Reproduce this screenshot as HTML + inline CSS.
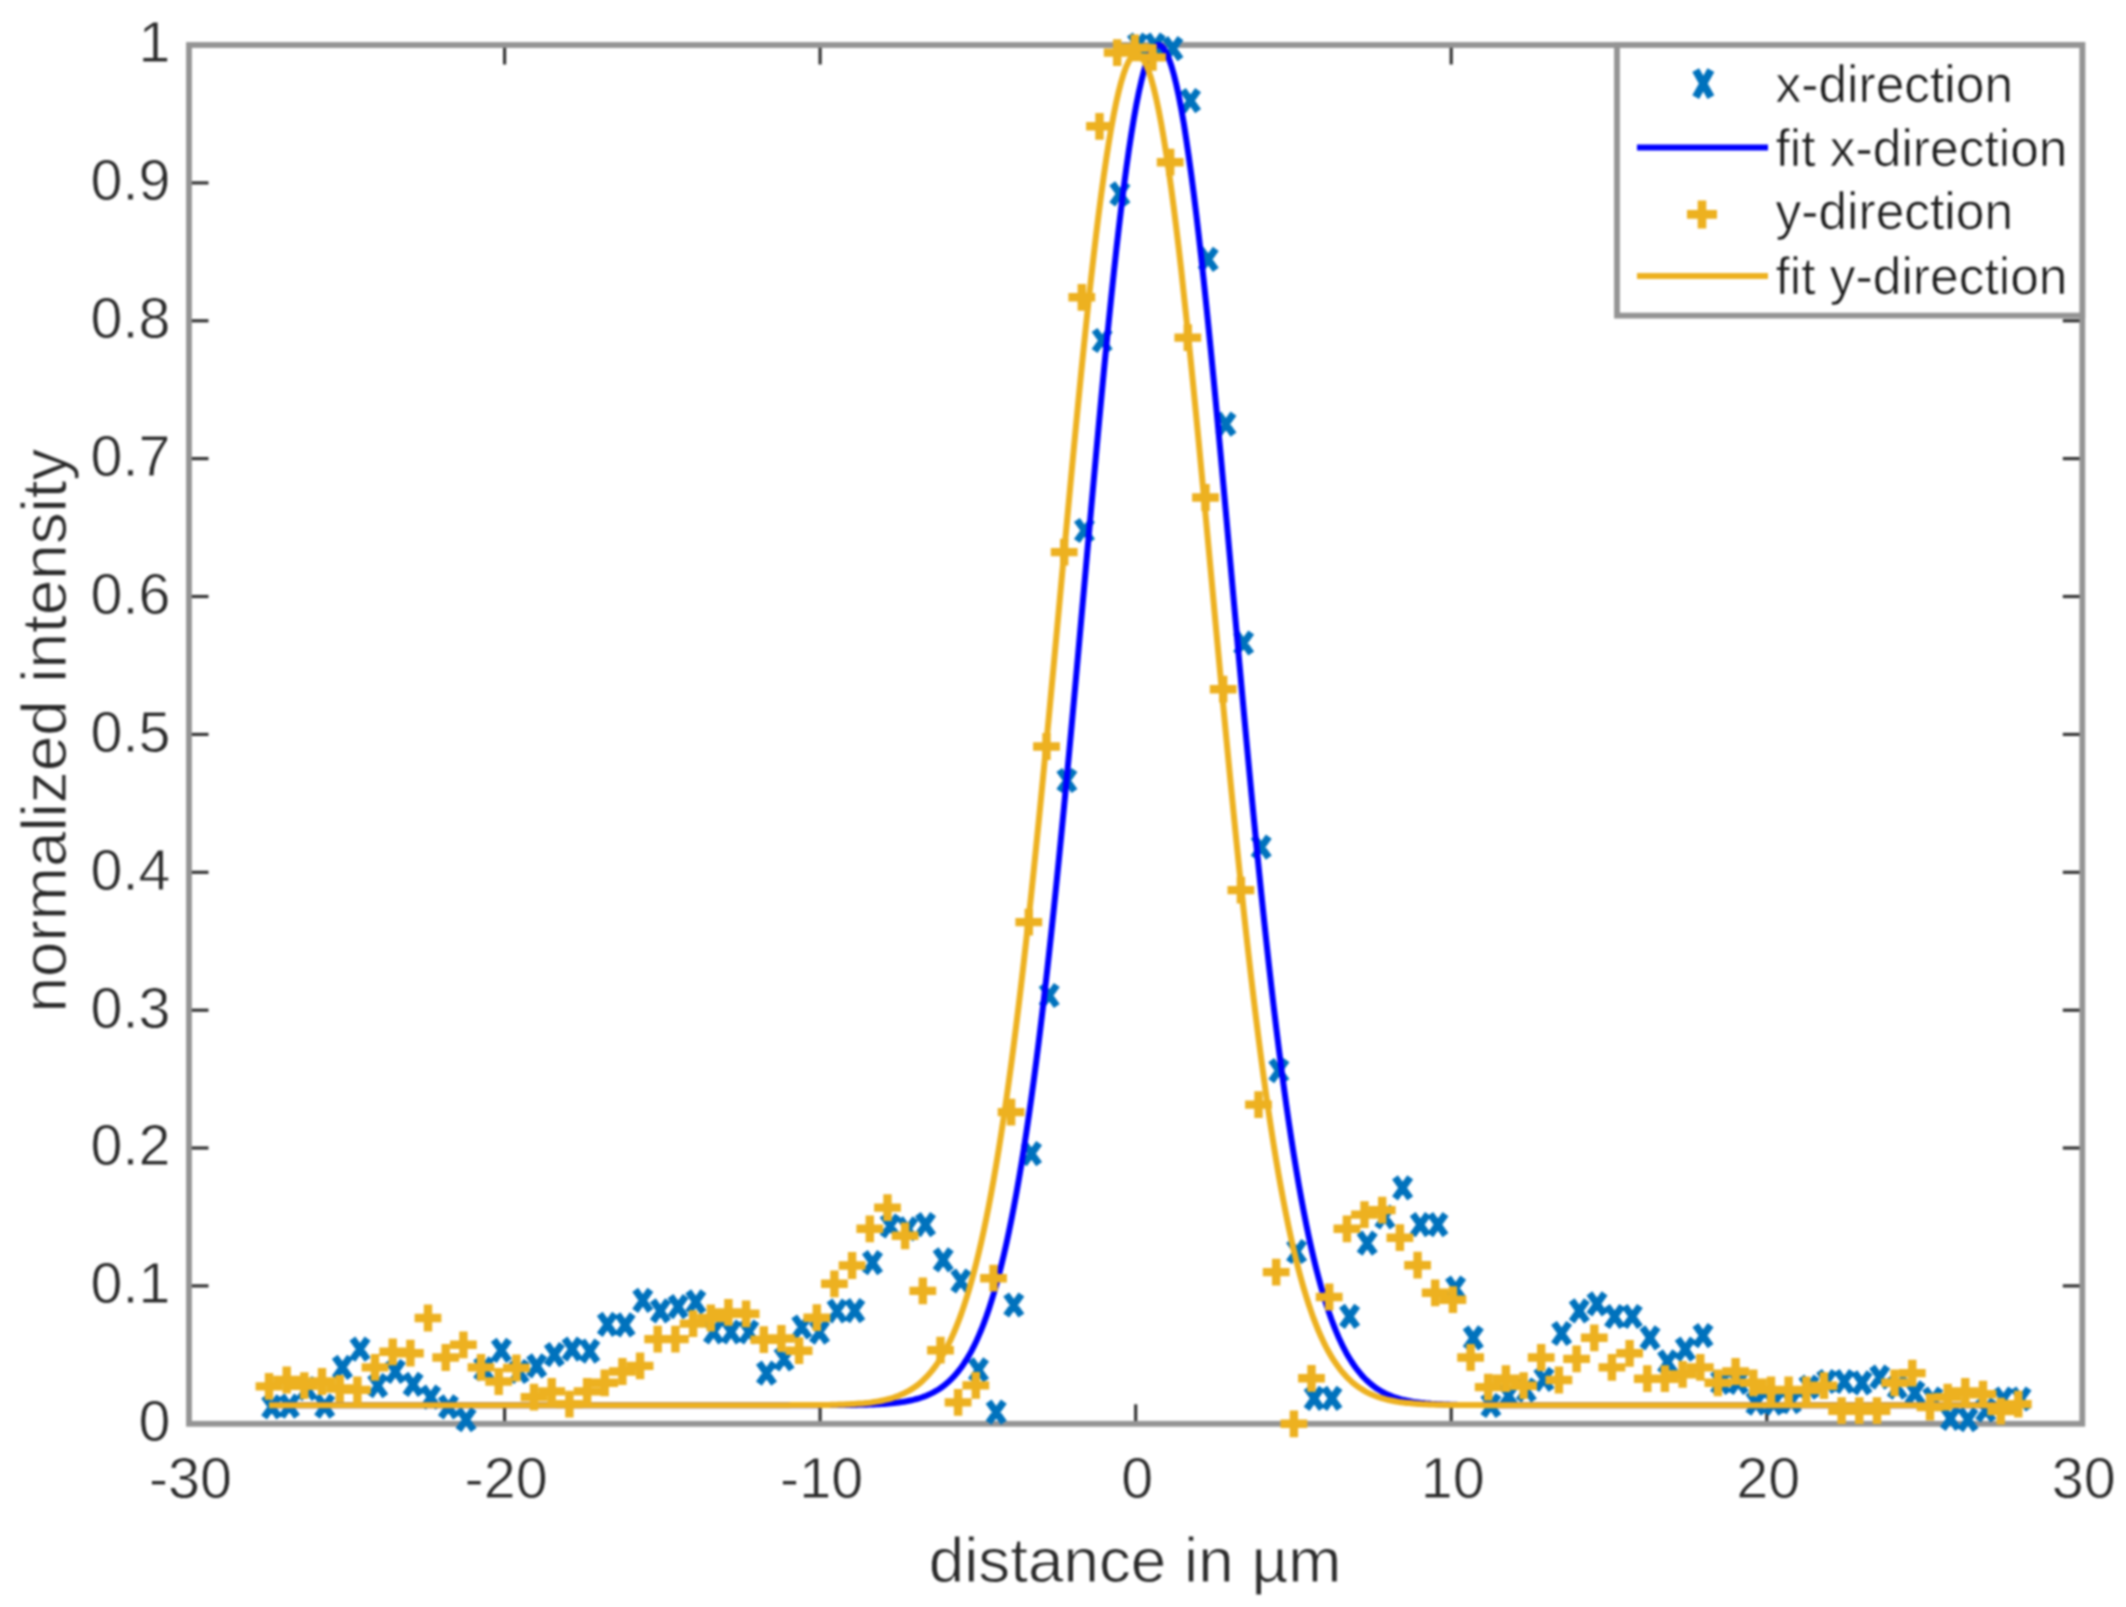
<!DOCTYPE html>
<html lang="en"><head><meta charset="utf-8"><title>Beam profile</title>
<style>html,body{margin:0;padding:0;background:#fff}svg{display:block}</style></head>
<body>
<svg width="2126" height="1607" viewBox="0 0 2126 1607" font-family='"Liberation Sans", sans-serif'>
<rect x="0" y="0" width="2126" height="1607" fill="#ffffff"/>
<defs><filter id="soft" x="0" y="0" width="100%" height="100%" filterUnits="userSpaceOnUse" color-interpolation-filters="sRGB"><feGaussianBlur stdDeviation="0.9"/></filter></defs>
<g filter="url(#soft)">
<rect x="0" y="0" width="2126" height="1607" fill="#ffffff"/>
<g stroke="#333333" stroke-width="3.2" fill="none">
<path d="M504.6 1423.8 V1404.3"/>
<path d="M504.6 45.0 V64.5"/>
<path d="M820.1 1423.8 V1404.3"/>
<path d="M820.1 45.0 V64.5"/>
<path d="M1135.7 1423.8 V1404.3"/>
<path d="M1451.2 1423.8 V1404.3"/>
<path d="M1451.2 45.0 V64.5"/>
<path d="M1766.8 1423.8 V1404.3"/>
<path d="M1766.8 45.0 V64.5"/>
<path d="M189.0 1285.9 H208.5"/>
<path d="M2082.3 1285.9 H2062.8"/>
<path d="M189.0 1148.0 H208.5"/>
<path d="M2082.3 1148.0 H2062.8"/>
<path d="M189.0 1010.2 H208.5"/>
<path d="M2082.3 1010.2 H2062.8"/>
<path d="M189.0 872.3 H208.5"/>
<path d="M2082.3 872.3 H2062.8"/>
<path d="M189.0 734.4 H208.5"/>
<path d="M2082.3 734.4 H2062.8"/>
<path d="M189.0 596.5 H208.5"/>
<path d="M2082.3 596.5 H2062.8"/>
<path d="M189.0 458.6 H208.5"/>
<path d="M2082.3 458.6 H2062.8"/>
<path d="M189.0 320.8 H208.5"/>
<path d="M2082.3 320.8 H2062.8"/>
<path d="M189.0 182.9 H208.5"/>
<path d="M2082.3 182.9 H2062.8"/>
</g>
<rect x="189.0" y="45.0" width="1893.3" height="1378.8" fill="none" stroke="#949494" stroke-width="5.8"/>
<g stroke="#0072bd" stroke-width="7.2" fill="none" stroke-linecap="butt">
<path d="M264.1 1396.3l15.2 21.0M264.1 1417.3l15.2 -21.0M281.8 1395.7l15.2 21.0M281.8 1416.7l15.2 -21.0M299.4 1378.0l15.2 21.0M299.4 1399.0l15.2 -21.0M317.1 1395.7l15.2 21.0M317.1 1416.7l15.2 -21.0M334.8 1356.9l15.2 21.0M334.8 1377.9l15.2 -21.0M352.4 1338.6l15.2 21.0M352.4 1359.6l15.2 -21.0M370.1 1375.2l15.2 21.0M370.1 1396.2l15.2 -21.0M387.8 1361.0l15.2 21.0M387.8 1382.0l15.2 -21.0M405.5 1373.9l15.2 21.0M405.5 1394.9l15.2 -21.0M423.1 1386.6l15.2 21.0M423.1 1407.6l15.2 -21.0M440.8 1396.3l15.2 21.0M440.8 1417.3l15.2 -21.0M458.5 1409.2l15.2 21.0M458.5 1430.2l15.2 -21.0M476.1 1358.3l15.2 21.0M476.1 1379.3l15.2 -21.0M493.8 1339.9l15.2 21.0M493.8 1360.9l15.2 -21.0M511.5 1361.0l15.2 21.0M511.5 1382.0l15.2 -21.0M529.1 1355.4l15.2 21.0M529.1 1376.4l15.2 -21.0M546.8 1344.2l15.2 21.0M546.8 1365.2l15.2 -21.0M564.5 1338.6l15.2 21.0M564.5 1359.6l15.2 -21.0M582.2 1340.6l15.2 21.0M582.2 1361.6l15.2 -21.0M599.8 1313.8l15.2 21.0M599.8 1334.8l15.2 -21.0M617.5 1314.4l15.2 21.0M617.5 1335.4l15.2 -21.0M635.2 1289.8l15.2 21.0M635.2 1310.8l15.2 -21.0M652.8 1300.4l15.2 21.0M652.8 1321.4l15.2 -21.0M670.5 1296.2l15.2 21.0M670.5 1317.2l15.2 -21.0M688.2 1291.3l15.2 21.0M688.2 1312.3l15.2 -21.0M705.9 1321.5l15.2 21.0M705.9 1342.5l15.2 -21.0M723.5 1321.5l15.2 21.0M723.5 1342.5l15.2 -21.0M741.2 1321.5l15.2 21.0M741.2 1342.5l15.2 -21.0M758.9 1362.6l15.2 21.0M758.9 1383.6l15.2 -21.0M776.5 1348.5l15.2 21.0M776.5 1369.5l15.2 -21.0M794.2 1316.5l15.2 21.0M794.2 1337.5l15.2 -21.0M811.9 1321.7l15.2 21.0M811.9 1342.7l15.2 -21.0M829.5 1300.5l15.2 21.0M829.5 1321.5l15.2 -21.0M847.2 1300.1l15.2 21.0M847.2 1321.1l15.2 -21.0M864.9 1252.2l15.2 21.0M864.9 1273.2l15.2 -21.0M882.6 1215.5l15.2 21.0M882.6 1236.5l15.2 -21.0M900.2 1218.3l15.2 21.0M900.2 1239.3l15.2 -21.0M917.9 1214.1l15.2 21.0M917.9 1235.1l15.2 -21.0M935.6 1249.3l15.2 21.0M935.6 1270.3l15.2 -21.0M953.2 1270.5l15.2 21.0M953.2 1291.5l15.2 -21.0M970.9 1359.4l15.2 21.0M970.9 1380.4l15.2 -21.0M988.6 1401.7l15.2 21.0M988.6 1422.7l15.2 -21.0M1006.2 1294.5l15.2 21.0M1006.2 1315.5l15.2 -21.0M1023.9 1143.1l15.2 21.0M1023.9 1164.1l15.2 -21.0M1041.6 985.0l15.2 21.0M1041.6 1006.0l15.2 -21.0M1059.3 770.0l15.2 21.0M1059.3 791.0l15.2 -21.0M1076.9 520.0l15.2 21.0M1076.9 541.0l15.2 -21.0M1094.6 330.0l15.2 21.0M1094.6 351.0l15.2 -21.0M1112.3 183.4l15.2 21.0M1112.3 204.4l15.2 -21.0M1129.9 34.5l15.2 21.0M1129.9 55.5l15.2 -21.0M1147.6 34.5l15.2 21.0M1147.6 55.5l15.2 -21.0M1165.3 38.1l15.2 21.0M1165.3 59.1l15.2 -21.0M1182.9 90.1l15.2 21.0M1182.9 111.1l15.2 -21.0M1200.6 248.9l15.2 21.0M1200.6 269.9l15.2 -21.0M1218.3 413.7l15.2 21.0M1218.3 434.7l15.2 -21.0M1236.0 632.5l15.2 21.0M1236.0 653.5l15.2 -21.0M1253.6 836.7l15.2 21.0M1253.6 857.7l15.2 -21.0M1271.3 1060.2l15.2 21.0M1271.3 1081.2l15.2 -21.0M1289.0 1241.0l15.2 21.0M1289.0 1262.0l15.2 -21.0M1306.6 1387.8l15.2 21.0M1306.6 1408.8l15.2 -21.0M1324.3 1387.8l15.2 21.0M1324.3 1408.8l15.2 -21.0M1342.0 1305.8l15.2 21.0M1342.0 1326.8l15.2 -21.0M1359.6 1232.7l15.2 21.0M1359.6 1253.7l15.2 -21.0M1377.3 1206.5l15.2 21.0M1377.3 1227.5l15.2 -21.0M1395.0 1177.4l15.2 21.0M1395.0 1198.4l15.2 -21.0M1412.7 1214.1l15.2 21.0M1412.7 1235.1l15.2 -21.0M1430.3 1214.1l15.2 21.0M1430.3 1235.1l15.2 -21.0M1448.0 1277.6l15.2 21.0M1448.0 1298.6l15.2 -21.0M1465.7 1327.3l15.2 21.0M1465.7 1348.3l15.2 -21.0M1483.3 1395.0l15.2 21.0M1483.3 1416.0l15.2 -21.0M1501.0 1385.0l15.2 21.0M1501.0 1406.0l15.2 -21.0M1518.7 1379.5l15.2 21.0M1518.7 1400.5l15.2 -21.0M1536.3 1368.9l15.2 21.0M1536.3 1389.9l15.2 -21.0M1554.0 1323.0l15.2 21.0M1554.0 1344.0l15.2 -21.0M1571.7 1300.4l15.2 21.0M1571.7 1321.4l15.2 -21.0M1589.4 1293.3l15.2 21.0M1589.4 1314.3l15.2 -21.0M1607.0 1306.0l15.2 21.0M1607.0 1327.0l15.2 -21.0M1624.7 1306.0l15.2 21.0M1624.7 1327.0l15.2 -21.0M1642.4 1327.3l15.2 21.0M1642.4 1348.3l15.2 -21.0M1660.0 1351.3l15.2 21.0M1660.0 1372.3l15.2 -21.0M1677.7 1338.6l15.2 21.0M1677.7 1359.6l15.2 -21.0M1695.4 1325.1l15.2 21.0M1695.4 1346.1l15.2 -21.0M1713.0 1371.9l15.2 21.0M1713.0 1392.9l15.2 -21.0M1730.7 1371.9l15.2 21.0M1730.7 1392.9l15.2 -21.0M1748.4 1392.6l15.2 21.0M1748.4 1413.6l15.2 -21.0M1766.1 1392.6l15.2 21.0M1766.1 1413.6l15.2 -21.0M1783.7 1391.2l15.2 21.0M1783.7 1412.2l15.2 -21.0M1801.4 1376.6l15.2 21.0M1801.4 1397.6l15.2 -21.0M1819.1 1371.0l15.2 21.0M1819.1 1392.0l15.2 -21.0M1836.7 1371.0l15.2 21.0M1836.7 1392.0l15.2 -21.0M1854.4 1372.3l15.2 21.0M1854.4 1393.3l15.2 -21.0M1872.1 1366.7l15.2 21.0M1872.1 1387.7l15.2 -21.0M1889.7 1376.6l15.2 21.0M1889.7 1397.6l15.2 -21.0M1907.4 1382.3l15.2 21.0M1907.4 1403.3l15.2 -21.0M1925.1 1388.5l15.2 21.0M1925.1 1409.5l15.2 -21.0M1942.8 1407.8l15.2 21.0M1942.8 1428.8l15.2 -21.0M1960.4 1409.2l15.2 21.0M1960.4 1430.2l15.2 -21.0M1978.1 1399.5l15.2 21.0M1978.1 1420.5l15.2 -21.0M1995.8 1388.5l15.2 21.0M1995.8 1409.5l15.2 -21.0M2013.4 1388.5l15.2 21.0M2013.4 1409.5l15.2 -21.0"/>
</g>
<polyline points="271.7,1405.2 274.2,1405.2 276.7,1405.2 279.2,1405.2 281.7,1405.2 284.2,1405.2 286.7,1405.2 289.2,1405.2 291.7,1405.2 294.2,1405.2 296.7,1405.2 299.2,1405.2 301.7,1405.2 304.2,1405.2 306.7,1405.2 309.2,1405.2 311.7,1405.2 314.2,1405.2 316.7,1405.2 319.2,1405.2 321.7,1405.2 324.2,1405.2 326.7,1405.2 329.2,1405.2 331.7,1405.2 334.2,1405.2 336.7,1405.2 339.2,1405.2 341.7,1405.2 344.2,1405.2 346.7,1405.2 349.2,1405.2 351.7,1405.2 354.2,1405.2 356.7,1405.2 359.2,1405.2 361.7,1405.2 364.2,1405.2 366.7,1405.2 369.2,1405.2 371.7,1405.2 374.2,1405.2 376.7,1405.2 379.2,1405.2 381.7,1405.2 384.2,1405.2 386.7,1405.2 389.2,1405.2 391.7,1405.2 394.2,1405.2 396.7,1405.2 399.2,1405.2 401.7,1405.2 404.1,1405.2 406.6,1405.2 409.1,1405.2 411.6,1405.2 414.1,1405.2 416.6,1405.2 419.1,1405.2 421.6,1405.2 424.1,1405.2 426.6,1405.2 429.1,1405.2 431.6,1405.2 434.1,1405.2 436.6,1405.2 439.1,1405.2 441.6,1405.2 444.1,1405.2 446.6,1405.2 449.1,1405.2 451.6,1405.2 454.1,1405.2 456.6,1405.2 459.1,1405.2 461.6,1405.2 464.1,1405.2 466.6,1405.2 469.1,1405.2 471.6,1405.2 474.1,1405.2 476.6,1405.2 479.1,1405.2 481.6,1405.2 484.1,1405.2 486.6,1405.2 489.1,1405.2 491.6,1405.2 494.1,1405.2 496.6,1405.2 499.1,1405.2 501.6,1405.2 504.1,1405.2 506.6,1405.2 509.1,1405.2 511.6,1405.2 514.1,1405.2 516.6,1405.2 519.1,1405.2 521.6,1405.2 524.1,1405.2 526.6,1405.2 529.1,1405.2 531.6,1405.2 534.1,1405.2 536.6,1405.2 539.1,1405.2 541.6,1405.2 544.1,1405.2 546.6,1405.2 549.1,1405.2 551.6,1405.2 554.1,1405.2 556.6,1405.2 559.1,1405.2 561.6,1405.2 564.1,1405.2 566.6,1405.2 569.1,1405.2 571.6,1405.2 574.1,1405.2 576.6,1405.2 579.1,1405.2 581.6,1405.2 584.1,1405.2 586.6,1405.2 589.1,1405.2 591.6,1405.2 594.1,1405.2 596.6,1405.2 599.1,1405.2 601.6,1405.2 604.1,1405.2 606.6,1405.2 609.1,1405.2 611.6,1405.2 614.1,1405.2 616.6,1405.2 619.1,1405.2 621.6,1405.2 624.1,1405.2 626.6,1405.2 629.1,1405.2 631.6,1405.2 634.1,1405.2 636.6,1405.2 639.1,1405.2 641.6,1405.2 644.1,1405.2 646.6,1405.2 649.1,1405.2 651.6,1405.2 654.1,1405.2 656.6,1405.2 659.1,1405.2 661.6,1405.2 664.0,1405.2 666.5,1405.2 669.0,1405.2 671.5,1405.2 674.0,1405.2 676.5,1405.2 679.0,1405.2 681.5,1405.2 684.0,1405.2 686.5,1405.2 689.0,1405.2 691.5,1405.2 694.0,1405.2 696.5,1405.2 699.0,1405.2 701.5,1405.2 704.0,1405.2 706.5,1405.2 709.0,1405.2 711.5,1405.2 714.0,1405.2 716.5,1405.2 719.0,1405.2 721.5,1405.2 724.0,1405.2 726.5,1405.2 729.0,1405.2 731.5,1405.2 734.0,1405.2 736.5,1405.2 739.0,1405.2 741.5,1405.2 744.0,1405.2 746.5,1405.2 749.0,1405.2 751.5,1405.2 754.0,1405.2 756.5,1405.2 759.0,1405.2 761.5,1405.2 764.0,1405.2 766.5,1405.2 769.0,1405.2 771.5,1405.2 774.0,1405.2 776.5,1405.2 779.0,1405.2 781.5,1405.2 784.0,1405.2 786.5,1405.2 789.0,1405.2 791.5,1405.2 794.0,1405.2 796.5,1405.2 799.0,1405.2 801.5,1405.2 804.0,1405.2 806.5,1405.2 809.0,1405.2 811.5,1405.2 814.0,1405.2 816.5,1405.2 819.0,1405.2 821.5,1405.1 824.0,1405.1 826.5,1405.1 829.0,1405.1 831.5,1405.1 834.0,1405.1 836.5,1405.1 839.0,1405.1 841.5,1405.1 844.0,1405.0 846.5,1405.0 849.0,1405.0 851.5,1405.0 854.0,1404.9 856.5,1404.9 859.0,1404.8 861.5,1404.8 864.0,1404.7 866.5,1404.7 869.0,1404.6 871.5,1404.5 874.0,1404.4 876.5,1404.3 879.0,1404.2 881.5,1404.0 884.0,1403.9 886.5,1403.7 889.0,1403.5 891.5,1403.3 894.0,1403.0 896.5,1402.8 899.0,1402.4 901.5,1402.1 904.0,1401.7 906.5,1401.3 909.0,1400.8 911.5,1400.3 914.0,1399.7 916.5,1399.0 919.0,1398.3 921.5,1397.5 924.0,1396.6 926.4,1395.7 928.9,1394.6 931.4,1393.4 933.9,1392.1 936.4,1390.7 938.9,1389.2 941.4,1387.5 943.9,1385.6 946.4,1383.6 948.9,1381.4 951.4,1379.0 953.9,1376.4 956.4,1373.6 958.9,1370.5 961.4,1367.2 963.9,1363.6 966.4,1359.7 968.9,1355.6 971.4,1351.1 973.9,1346.2 976.4,1341.0 978.9,1335.4 981.4,1329.5 983.9,1323.1 986.4,1316.3 988.9,1309.0 991.4,1301.2 993.9,1293.0 996.4,1284.2 998.9,1274.9 1001.4,1265.0 1003.9,1254.6 1006.4,1243.6 1008.9,1231.9 1011.4,1219.7 1013.9,1206.8 1016.4,1193.3 1018.9,1179.0 1021.4,1164.2 1023.9,1148.6 1026.4,1132.3 1028.9,1115.4 1031.4,1097.7 1033.9,1079.4 1036.4,1060.4 1038.9,1040.6 1041.4,1020.2 1043.9,999.1 1046.4,977.3 1048.9,954.9 1051.4,931.9 1053.9,908.2 1056.4,884.0 1058.9,859.2 1061.4,833.9 1063.9,808.2 1066.4,781.9 1068.9,755.3 1071.4,728.3 1073.9,701.0 1076.4,673.5 1078.9,645.7 1081.4,617.8 1083.9,589.9 1086.4,561.9 1088.9,533.9 1091.4,506.1 1093.9,478.4 1096.4,451.0 1098.9,423.9 1101.4,397.1 1103.9,370.9 1106.4,345.2 1108.9,320.1 1111.4,295.7 1113.9,272.0 1116.4,249.2 1118.9,227.3 1121.4,206.3 1123.9,186.4 1126.4,167.6 1128.9,149.9 1131.4,133.5 1133.9,118.3 1136.4,104.4 1138.9,91.9 1141.4,80.8 1143.9,71.1 1146.4,63.0 1148.9,56.3 1151.4,51.1 1153.9,47.5 1156.4,45.5 1158.9,45.0 1161.4,46.1 1163.9,48.8 1166.4,53.0 1168.9,58.7 1171.4,66.0 1173.9,74.8 1176.4,85.0 1178.9,96.6 1181.4,109.7 1183.9,124.1 1186.3,139.8 1188.8,156.7 1191.3,174.9 1193.8,194.1 1196.3,214.5 1198.8,235.8 1201.3,258.1 1203.8,281.2 1206.3,305.2 1208.8,329.9 1211.3,355.2 1213.8,381.1 1216.3,407.6 1218.8,434.5 1221.3,461.7 1223.8,489.2 1226.3,517.0 1228.8,544.9 1231.3,572.9 1233.8,600.9 1236.3,628.8 1238.8,656.7 1241.3,684.3 1243.8,711.8 1246.3,739.0 1248.8,765.8 1251.3,792.3 1253.8,818.3 1256.3,843.9 1258.8,869.0 1261.3,893.6 1263.8,917.6 1266.3,941.0 1268.8,963.8 1271.3,986.0 1273.8,1007.5 1276.3,1028.3 1278.8,1048.4 1281.3,1067.9 1283.8,1086.7 1286.3,1104.8 1288.8,1122.1 1291.3,1138.8 1293.8,1154.8 1296.3,1170.1 1298.8,1184.7 1301.3,1198.6 1303.8,1211.9 1306.3,1224.6 1308.8,1236.6 1311.3,1248.0 1313.8,1258.8 1316.3,1269.0 1318.8,1278.6 1321.3,1287.7 1323.8,1296.3 1326.3,1304.3 1328.8,1311.9 1331.3,1319.0 1333.8,1325.6 1336.3,1331.9 1338.8,1337.7 1341.3,1343.1 1343.8,1348.2 1346.3,1352.9 1348.8,1357.2 1351.3,1361.3 1353.8,1365.0 1356.3,1368.5 1358.8,1371.7 1361.3,1374.7 1363.8,1377.5 1366.3,1380.0 1368.8,1382.3 1371.3,1384.4 1373.8,1386.4 1376.3,1388.2 1378.8,1389.8 1381.3,1391.3 1383.8,1392.7 1386.3,1393.9 1388.8,1395.0 1391.3,1396.1 1393.8,1397.0 1396.3,1397.8 1398.8,1398.6 1401.3,1399.3 1403.8,1399.9 1406.3,1400.5 1408.8,1401.0 1411.3,1401.5 1413.8,1401.9 1416.3,1402.2 1418.8,1402.6 1421.3,1402.9 1423.8,1403.1 1426.3,1403.4 1428.8,1403.6 1431.3,1403.8 1433.8,1403.9 1436.3,1404.1 1438.8,1404.2 1441.3,1404.3 1443.8,1404.4 1446.3,1404.5 1448.7,1404.6 1451.2,1404.7 1453.7,1404.8 1456.2,1404.8 1458.7,1404.9 1461.2,1404.9 1463.7,1404.9 1466.2,1405.0 1468.7,1405.0 1471.2,1405.0 1473.7,1405.0 1476.2,1405.1 1478.7,1405.1 1481.2,1405.1 1483.7,1405.1 1486.2,1405.1 1488.7,1405.1 1491.2,1405.1 1493.7,1405.1 1496.2,1405.1 1498.7,1405.2 1501.2,1405.2 1503.7,1405.2 1506.2,1405.2 1508.7,1405.2 1511.2,1405.2 1513.7,1405.2 1516.2,1405.2 1518.7,1405.2 1521.2,1405.2 1523.7,1405.2 1526.2,1405.2 1528.7,1405.2 1531.2,1405.2 1533.7,1405.2 1536.2,1405.2 1538.7,1405.2 1541.2,1405.2 1543.7,1405.2 1546.2,1405.2 1548.7,1405.2 1551.2,1405.2 1553.7,1405.2 1556.2,1405.2 1558.7,1405.2 1561.2,1405.2 1563.7,1405.2 1566.2,1405.2 1568.7,1405.2 1571.2,1405.2 1573.7,1405.2 1576.2,1405.2 1578.7,1405.2 1581.2,1405.2 1583.7,1405.2 1586.2,1405.2 1588.7,1405.2 1591.2,1405.2 1593.7,1405.2 1596.2,1405.2 1598.7,1405.2 1601.2,1405.2 1603.7,1405.2 1606.2,1405.2 1608.7,1405.2 1611.2,1405.2 1613.7,1405.2 1616.2,1405.2 1618.7,1405.2 1621.2,1405.2 1623.7,1405.2 1626.2,1405.2 1628.7,1405.2 1631.2,1405.2 1633.7,1405.2 1636.2,1405.2 1638.7,1405.2 1641.2,1405.2 1643.7,1405.2 1646.2,1405.2 1648.7,1405.2 1651.2,1405.2 1653.7,1405.2 1656.2,1405.2 1658.7,1405.2 1661.2,1405.2 1663.7,1405.2 1666.2,1405.2 1668.7,1405.2 1671.2,1405.2 1673.7,1405.2 1676.2,1405.2 1678.7,1405.2 1681.2,1405.2 1683.7,1405.2 1686.2,1405.2 1688.7,1405.2 1691.2,1405.2 1693.7,1405.2 1696.2,1405.2 1698.7,1405.2 1701.2,1405.2 1703.7,1405.2 1706.2,1405.2 1708.6,1405.2 1711.1,1405.2 1713.6,1405.2 1716.1,1405.2 1718.6,1405.2 1721.1,1405.2 1723.6,1405.2 1726.1,1405.2 1728.6,1405.2 1731.1,1405.2 1733.6,1405.2 1736.1,1405.2 1738.6,1405.2 1741.1,1405.2 1743.6,1405.2 1746.1,1405.2 1748.6,1405.2 1751.1,1405.2 1753.6,1405.2 1756.1,1405.2 1758.6,1405.2 1761.1,1405.2 1763.6,1405.2 1766.1,1405.2 1768.6,1405.2 1771.1,1405.2 1773.6,1405.2 1776.1,1405.2 1778.6,1405.2 1781.1,1405.2 1783.6,1405.2 1786.1,1405.2 1788.6,1405.2 1791.1,1405.2 1793.6,1405.2 1796.1,1405.2 1798.6,1405.2 1801.1,1405.2 1803.6,1405.2 1806.1,1405.2 1808.6,1405.2 1811.1,1405.2 1813.6,1405.2 1816.1,1405.2 1818.6,1405.2 1821.1,1405.2 1823.6,1405.2 1826.1,1405.2 1828.6,1405.2 1831.1,1405.2 1833.6,1405.2 1836.1,1405.2 1838.6,1405.2 1841.1,1405.2 1843.6,1405.2 1846.1,1405.2 1848.6,1405.2 1851.1,1405.2 1853.6,1405.2 1856.1,1405.2 1858.6,1405.2 1861.1,1405.2 1863.6,1405.2 1866.1,1405.2 1868.6,1405.2 1871.1,1405.2 1873.6,1405.2 1876.1,1405.2 1878.6,1405.2 1881.1,1405.2 1883.6,1405.2 1886.1,1405.2 1888.6,1405.2 1891.1,1405.2 1893.6,1405.2 1896.1,1405.2 1898.6,1405.2 1901.1,1405.2 1903.6,1405.2 1906.1,1405.2 1908.6,1405.2 1911.1,1405.2 1913.6,1405.2 1916.1,1405.2 1918.6,1405.2 1921.1,1405.2 1923.6,1405.2 1926.1,1405.2 1928.6,1405.2 1931.1,1405.2 1933.6,1405.2 1936.1,1405.2 1938.6,1405.2 1941.1,1405.2 1943.6,1405.2 1946.1,1405.2 1948.6,1405.2 1951.1,1405.2 1953.6,1405.2 1956.1,1405.2 1958.6,1405.2 1961.1,1405.2 1963.6,1405.2 1966.1,1405.2 1968.6,1405.2 1971.0,1405.2 1973.5,1405.2 1976.0,1405.2 1978.5,1405.2 1981.0,1405.2 1983.5,1405.2 1986.0,1405.2 1988.5,1405.2 1991.0,1405.2 1993.5,1405.2 1996.0,1405.2 1998.5,1405.2 2001.0,1405.2 2003.5,1405.2 2006.0,1405.2 2008.5,1405.2 2011.0,1405.2 2013.5,1405.2 2016.0,1405.2 2018.5,1405.2 2021.0,1405.2" fill="none" stroke="#0000ff" stroke-width="6.0" stroke-linejoin="round"/>
<path d="M255.6 1386.4h26.8M269.0 1373.0v26.8M273.3 1380.0h26.8M286.7 1366.6v26.8M290.9 1385.7h26.8M304.3 1372.3v26.8M308.6 1381.5h26.8M322.0 1368.1v26.8M326.3 1388.5h26.8M339.7 1375.1v26.8M344.0 1389.9h26.8M357.4 1376.5v26.8M361.6 1367.4h26.8M375.0 1354.0v26.8M379.3 1351.8h26.8M392.7 1338.4v26.8M397.0 1353.2h26.8M410.4 1339.8v26.8M414.6 1318.0h26.8M428.0 1304.6v26.8M432.3 1357.5h26.8M445.7 1344.1v26.8M450.0 1344.8h26.8M463.4 1331.4v26.8M467.6 1367.4h26.8M481.0 1354.0v26.8M485.3 1381.5h26.8M498.7 1368.1v26.8M503.0 1368.0h26.8M516.4 1354.6v26.8M520.6 1397.1h26.8M534.0 1383.7v26.8M538.3 1391.4h26.8M551.7 1378.0v26.8M556.0 1404.1h26.8M569.4 1390.7v26.8M573.7 1391.4h26.8M587.1 1378.0v26.8M591.3 1382.8h26.8M604.7 1369.4v26.8M609.0 1371.5h26.8M622.4 1358.1v26.8M626.7 1365.9h26.8M640.1 1352.5v26.8M644.3 1339.1h26.8M657.7 1325.7v26.8M662.0 1339.1h26.8M675.4 1325.7v26.8M679.7 1323.6h26.8M693.1 1310.2v26.8M697.4 1318.0h26.8M710.8 1304.6v26.8M715.0 1312.4h26.8M728.4 1299.0v26.8M732.7 1313.8h26.8M746.1 1300.4v26.8M750.4 1339.7h26.8M763.8 1326.3v26.8M768.0 1338.5h26.8M781.4 1325.1v26.8M785.7 1350.7h26.8M799.1 1337.3v26.8M803.4 1317.7h26.8M816.8 1304.3v26.8M821.0 1283.8h26.8M834.4 1270.4v26.8M838.7 1265.5h26.8M852.1 1252.1v26.8M856.4 1228.8h26.8M869.8 1215.4v26.8M874.1 1207.6h26.8M887.5 1194.2v26.8M891.7 1235.8h26.8M905.1 1222.4v26.8M909.4 1290.9h26.8M922.8 1277.5v26.8M927.1 1350.2h26.8M940.5 1336.8v26.8M944.7 1402.4h26.8M958.1 1389.0v26.8M962.4 1385.4h26.8M975.8 1372.0v26.8M980.1 1278.2h26.8M993.5 1264.8v26.8M997.7 1112.1h26.8M1011.1 1098.7v26.8M1015.4 922.1h26.8M1028.8 908.7v26.8M1033.1 746.5h26.8M1046.5 733.1v26.8M1050.8 552.1h26.8M1064.2 538.7v26.8M1068.4 297.3h26.8M1081.8 283.9v26.8M1086.1 126.3h26.8M1099.5 112.9v26.8M1103.8 52.6h26.8M1117.2 39.2v26.8M1121.4 47.8h26.8M1134.8 34.4v26.8M1139.1 57.4h26.8M1152.5 44.0v26.8M1156.8 162.2h26.8M1170.2 148.8v26.8M1174.4 337.6h26.8M1187.8 324.2v26.8M1192.1 497.5h26.8M1205.5 484.1v26.8M1209.8 689.2h26.8M1223.2 675.8v26.8M1227.5 890.1h26.8M1240.9 876.7v26.8M1245.1 1104.6h26.8M1258.5 1091.2v26.8M1262.8 1272.1h26.8M1276.2 1258.7v26.8M1280.5 1423.8h26.8M1293.9 1410.4v26.8M1298.1 1378.3h26.8M1311.5 1364.9v26.8M1315.8 1297.0h26.8M1329.2 1283.6v26.8M1333.5 1228.8h26.8M1346.9 1215.4v26.8M1351.1 1214.6h26.8M1364.5 1201.2v26.8M1368.8 1210.1h26.8M1382.2 1196.7v26.8M1386.5 1237.7h26.8M1399.9 1224.3v26.8M1404.2 1265.2h26.8M1417.6 1251.8v26.8M1421.8 1292.8h26.8M1435.2 1279.4v26.8M1439.5 1299.7h26.8M1452.9 1286.3v26.8M1457.2 1357.5h26.8M1470.6 1344.1v26.8M1474.8 1387.1h26.8M1488.2 1373.7v26.8M1492.5 1378.7h26.8M1505.9 1365.3v26.8M1510.2 1385.7h26.8M1523.6 1372.3v26.8M1527.8 1357.5h26.8M1541.2 1344.1v26.8M1545.5 1380.0h26.8M1558.9 1366.6v26.8M1563.2 1358.9h26.8M1576.6 1345.5v26.8M1580.9 1337.8h26.8M1594.3 1324.4v26.8M1598.5 1367.4h26.8M1611.9 1354.0v26.8M1616.2 1353.3h26.8M1629.6 1339.9v26.8M1633.9 1378.7h26.8M1647.3 1365.3v26.8M1651.5 1378.7h26.8M1664.9 1365.3v26.8M1669.2 1374.4h26.8M1682.6 1361.0v26.8M1686.9 1367.4h26.8M1700.3 1354.0v26.8M1704.5 1382.8h26.8M1717.9 1369.4v26.8M1722.2 1371.5h26.8M1735.6 1358.1v26.8M1739.9 1382.8h26.8M1753.3 1369.4v26.8M1757.5 1390.0h26.8M1771.0 1376.6v26.8M1775.2 1390.0h26.8M1788.6 1376.6v26.8M1792.9 1390.0h26.8M1806.3 1376.6v26.8M1810.6 1385.7h26.8M1824.0 1372.3v26.8M1828.2 1410.7h26.8M1841.6 1397.3v26.8M1845.9 1410.7h26.8M1859.3 1397.3v26.8M1863.6 1410.7h26.8M1877.0 1397.3v26.8M1881.2 1382.8h26.8M1894.6 1369.4v26.8M1898.9 1373.1h26.8M1912.3 1359.7v26.8M1916.6 1407.0h26.8M1930.0 1393.6v26.8M1934.2 1397.1h26.8M1947.7 1383.7v26.8M1951.9 1391.4h26.8M1965.3 1378.0v26.8M1969.6 1394.2h26.8M1983.0 1380.8v26.8M1987.3 1411.1h26.8M2000.7 1397.7v26.8M2004.9 1404.1h26.8M2018.3 1390.7v26.8" stroke="#edb120" stroke-width="8.4" fill="none"/>
<polyline points="269.0,1405.2 271.5,1405.2 274.0,1405.2 276.5,1405.2 279.0,1405.2 281.5,1405.2 284.0,1405.2 286.5,1405.2 289.0,1405.2 291.5,1405.2 294.0,1405.2 296.5,1405.2 299.0,1405.2 301.5,1405.2 304.0,1405.2 306.5,1405.2 309.0,1405.2 311.5,1405.2 314.0,1405.2 316.5,1405.2 319.0,1405.2 321.5,1405.2 324.0,1405.2 326.5,1405.2 329.0,1405.2 331.5,1405.2 334.0,1405.2 336.5,1405.2 339.0,1405.2 341.5,1405.2 344.0,1405.2 346.5,1405.2 349.0,1405.2 351.5,1405.2 354.0,1405.2 356.5,1405.2 359.0,1405.2 361.5,1405.2 364.0,1405.2 366.5,1405.2 369.0,1405.2 371.5,1405.2 374.0,1405.2 376.5,1405.2 379.0,1405.2 381.5,1405.2 384.0,1405.2 386.5,1405.2 389.0,1405.2 391.5,1405.2 394.0,1405.2 396.5,1405.2 399.0,1405.2 401.4,1405.2 403.9,1405.2 406.4,1405.2 408.9,1405.2 411.4,1405.2 413.9,1405.2 416.4,1405.2 418.9,1405.2 421.4,1405.2 423.9,1405.2 426.4,1405.2 428.9,1405.2 431.4,1405.2 433.9,1405.2 436.4,1405.2 438.9,1405.2 441.4,1405.2 443.9,1405.2 446.4,1405.2 448.9,1405.2 451.4,1405.2 453.9,1405.2 456.4,1405.2 458.9,1405.2 461.4,1405.2 463.9,1405.2 466.4,1405.2 468.9,1405.2 471.4,1405.2 473.9,1405.2 476.4,1405.2 478.9,1405.2 481.4,1405.2 483.9,1405.2 486.4,1405.2 488.9,1405.2 491.4,1405.2 493.9,1405.2 496.4,1405.2 498.9,1405.2 501.4,1405.2 503.9,1405.2 506.4,1405.2 508.9,1405.2 511.4,1405.2 513.9,1405.2 516.4,1405.2 518.9,1405.2 521.4,1405.2 523.9,1405.2 526.4,1405.2 528.9,1405.2 531.4,1405.2 533.9,1405.2 536.4,1405.2 538.9,1405.2 541.4,1405.2 543.9,1405.2 546.4,1405.2 548.9,1405.2 551.4,1405.2 553.9,1405.2 556.4,1405.2 558.9,1405.2 561.4,1405.2 563.9,1405.2 566.4,1405.2 568.9,1405.2 571.4,1405.2 573.9,1405.2 576.4,1405.2 578.9,1405.2 581.4,1405.2 583.9,1405.2 586.4,1405.2 588.9,1405.2 591.4,1405.2 593.9,1405.2 596.4,1405.2 598.9,1405.2 601.4,1405.2 603.9,1405.2 606.4,1405.2 608.9,1405.2 611.4,1405.2 613.9,1405.2 616.4,1405.2 618.9,1405.2 621.4,1405.2 623.9,1405.2 626.4,1405.2 628.9,1405.2 631.4,1405.2 633.9,1405.2 636.4,1405.2 638.9,1405.2 641.4,1405.2 643.9,1405.2 646.4,1405.2 648.9,1405.2 651.4,1405.2 653.9,1405.2 656.4,1405.2 658.9,1405.2 661.3,1405.2 663.8,1405.2 666.3,1405.2 668.8,1405.2 671.3,1405.2 673.8,1405.2 676.3,1405.2 678.8,1405.2 681.3,1405.2 683.8,1405.2 686.3,1405.2 688.8,1405.2 691.3,1405.2 693.8,1405.2 696.3,1405.2 698.8,1405.2 701.3,1405.2 703.8,1405.2 706.3,1405.2 708.8,1405.2 711.3,1405.2 713.8,1405.2 716.3,1405.2 718.8,1405.2 721.3,1405.2 723.8,1405.2 726.3,1405.2 728.8,1405.2 731.3,1405.2 733.8,1405.2 736.3,1405.2 738.8,1405.2 741.3,1405.2 743.8,1405.2 746.3,1405.2 748.8,1405.2 751.3,1405.2 753.8,1405.2 756.3,1405.2 758.8,1405.2 761.3,1405.2 763.8,1405.2 766.3,1405.2 768.8,1405.2 771.3,1405.2 773.8,1405.2 776.3,1405.2 778.8,1405.2 781.3,1405.2 783.8,1405.2 786.3,1405.2 788.8,1405.2 791.3,1405.1 793.8,1405.1 796.3,1405.1 798.8,1405.1 801.3,1405.1 803.8,1405.1 806.3,1405.1 808.8,1405.1 811.3,1405.1 813.8,1405.0 816.3,1405.0 818.8,1405.0 821.3,1405.0 823.8,1404.9 826.3,1404.9 828.8,1404.9 831.3,1404.8 833.8,1404.7 836.3,1404.7 838.8,1404.6 841.3,1404.5 843.8,1404.4 846.3,1404.3 848.8,1404.2 851.3,1404.1 853.8,1404.0 856.3,1403.8 858.8,1403.6 861.3,1403.4 863.8,1403.2 866.3,1402.9 868.8,1402.7 871.3,1402.4 873.8,1402.0 876.3,1401.6 878.8,1401.2 881.3,1400.7 883.8,1400.2 886.3,1399.6 888.8,1399.0 891.3,1398.3 893.8,1397.5 896.3,1396.6 898.8,1395.7 901.3,1394.6 903.8,1393.5 906.3,1392.2 908.8,1390.9 911.3,1389.4 913.8,1387.8 916.3,1386.0 918.8,1384.1 921.3,1382.0 923.7,1379.7 926.2,1377.2 928.7,1374.5 931.2,1371.6 933.7,1368.5 936.2,1365.1 938.7,1361.4 941.2,1357.5 943.7,1353.2 946.2,1348.7 948.7,1343.8 951.2,1338.6 953.7,1333.0 956.2,1327.0 958.7,1320.7 961.2,1313.9 963.7,1306.6 966.2,1298.9 968.7,1290.8 971.2,1282.1 973.7,1272.9 976.2,1263.2 978.7,1253.0 981.2,1242.2 983.7,1230.8 986.2,1218.8 988.7,1206.3 991.2,1193.1 993.7,1179.3 996.2,1164.8 998.7,1149.7 1001.2,1133.9 1003.7,1117.5 1006.2,1100.5 1008.7,1082.7 1011.2,1064.3 1013.7,1045.3 1016.2,1025.6 1018.7,1005.3 1021.2,984.3 1023.7,962.8 1026.2,940.6 1028.7,917.9 1031.2,894.6 1033.7,870.7 1036.2,846.4 1038.7,821.6 1041.2,796.4 1043.7,770.8 1046.2,744.8 1048.7,718.5 1051.2,691.9 1053.7,665.2 1056.2,638.2 1058.7,611.2 1061.2,584.1 1063.7,557.0 1066.2,529.9 1068.7,503.0 1071.2,476.3 1073.7,449.8 1076.2,423.7 1078.7,397.9 1081.2,372.6 1083.7,347.9 1086.2,323.7 1088.7,300.1 1091.2,277.3 1093.7,255.3 1096.2,234.1 1098.7,213.9 1101.2,194.6 1103.7,176.3 1106.2,159.2 1108.7,143.2 1111.2,128.3 1113.7,114.7 1116.2,102.4 1118.7,91.5 1121.2,81.8 1123.7,73.6 1126.2,66.8 1128.7,61.4 1131.2,57.4 1133.7,55.0 1136.2,54.0 1138.7,54.5 1141.2,56.4 1143.7,59.9 1146.2,64.8 1148.7,71.1 1151.2,78.8 1153.7,88.0 1156.2,98.5 1158.7,110.4 1161.2,123.5 1163.7,137.9 1166.2,153.5 1168.7,170.3 1171.2,188.2 1173.7,207.1 1176.2,227.1 1178.7,247.9 1181.2,269.7 1183.6,292.2 1186.1,315.5 1188.6,339.5 1191.1,364.1 1193.6,389.2 1196.1,414.8 1198.6,440.8 1201.1,467.2 1203.6,493.8 1206.1,520.7 1208.6,547.7 1211.1,574.8 1213.6,601.9 1216.1,629.0 1218.6,655.9 1221.1,682.8 1223.6,709.4 1226.1,735.8 1228.6,761.9 1231.1,787.6 1233.6,813.0 1236.1,838.0 1238.6,862.4 1241.1,886.4 1243.6,909.9 1246.1,932.9 1248.6,955.2 1251.1,977.0 1253.6,998.2 1256.1,1018.7 1258.6,1038.6 1261.1,1057.9 1263.6,1076.5 1266.1,1094.5 1268.6,1111.7 1271.1,1128.4 1273.6,1144.4 1276.1,1159.7 1278.6,1174.4 1281.1,1188.4 1283.6,1201.8 1286.1,1214.6 1288.6,1226.8 1291.1,1238.3 1293.6,1249.3 1296.1,1259.8 1298.6,1269.7 1301.1,1279.0 1303.6,1287.9 1306.1,1296.2 1308.6,1304.0 1311.1,1311.4 1313.6,1318.4 1316.1,1324.9 1318.6,1331.0 1321.1,1336.7 1323.6,1342.1 1326.1,1347.1 1328.6,1351.7 1331.1,1356.1 1333.6,1360.1 1336.1,1363.8 1338.6,1367.3 1341.1,1370.6 1343.6,1373.5 1346.1,1376.3 1348.6,1378.8 1351.1,1381.2 1353.6,1383.4 1356.1,1385.3 1358.6,1387.2 1361.1,1388.8 1363.6,1390.4 1366.1,1391.8 1368.6,1393.1 1371.1,1394.3 1373.6,1395.3 1376.1,1396.3 1378.6,1397.2 1381.1,1398.0 1383.6,1398.7 1386.1,1399.4 1388.6,1400.0 1391.1,1400.5 1393.6,1401.0 1396.1,1401.5 1398.6,1401.9 1401.1,1402.2 1403.6,1402.6 1406.1,1402.9 1408.6,1403.1 1411.1,1403.3 1413.6,1403.6 1416.1,1403.7 1418.6,1403.9 1421.1,1404.1 1423.6,1404.2 1426.1,1404.3 1428.6,1404.4 1431.1,1404.5 1433.6,1404.6 1436.1,1404.7 1438.6,1404.7 1441.1,1404.8 1443.6,1404.8 1446.0,1404.9 1448.5,1404.9 1451.0,1405.0 1453.5,1405.0 1456.0,1405.0 1458.5,1405.0 1461.0,1405.1 1463.5,1405.1 1466.0,1405.1 1468.5,1405.1 1471.0,1405.1 1473.5,1405.1 1476.0,1405.1 1478.5,1405.1 1481.0,1405.1 1483.5,1405.2 1486.0,1405.2 1488.5,1405.2 1491.0,1405.2 1493.5,1405.2 1496.0,1405.2 1498.5,1405.2 1501.0,1405.2 1503.5,1405.2 1506.0,1405.2 1508.5,1405.2 1511.0,1405.2 1513.5,1405.2 1516.0,1405.2 1518.5,1405.2 1521.0,1405.2 1523.5,1405.2 1526.0,1405.2 1528.5,1405.2 1531.0,1405.2 1533.5,1405.2 1536.0,1405.2 1538.5,1405.2 1541.0,1405.2 1543.5,1405.2 1546.0,1405.2 1548.5,1405.2 1551.0,1405.2 1553.5,1405.2 1556.0,1405.2 1558.5,1405.2 1561.0,1405.2 1563.5,1405.2 1566.0,1405.2 1568.5,1405.2 1571.0,1405.2 1573.5,1405.2 1576.0,1405.2 1578.5,1405.2 1581.0,1405.2 1583.5,1405.2 1586.0,1405.2 1588.5,1405.2 1591.0,1405.2 1593.5,1405.2 1596.0,1405.2 1598.5,1405.2 1601.0,1405.2 1603.5,1405.2 1606.0,1405.2 1608.5,1405.2 1611.0,1405.2 1613.5,1405.2 1616.0,1405.2 1618.5,1405.2 1621.0,1405.2 1623.5,1405.2 1626.0,1405.2 1628.5,1405.2 1631.0,1405.2 1633.5,1405.2 1636.0,1405.2 1638.5,1405.2 1641.0,1405.2 1643.5,1405.2 1646.0,1405.2 1648.5,1405.2 1651.0,1405.2 1653.5,1405.2 1656.0,1405.2 1658.5,1405.2 1661.0,1405.2 1663.5,1405.2 1666.0,1405.2 1668.5,1405.2 1671.0,1405.2 1673.5,1405.2 1676.0,1405.2 1678.5,1405.2 1681.0,1405.2 1683.5,1405.2 1686.0,1405.2 1688.5,1405.2 1691.0,1405.2 1693.5,1405.2 1696.0,1405.2 1698.5,1405.2 1701.0,1405.2 1703.5,1405.2 1705.9,1405.2 1708.4,1405.2 1710.9,1405.2 1713.4,1405.2 1715.9,1405.2 1718.4,1405.2 1720.9,1405.2 1723.4,1405.2 1725.9,1405.2 1728.4,1405.2 1730.9,1405.2 1733.4,1405.2 1735.9,1405.2 1738.4,1405.2 1740.9,1405.2 1743.4,1405.2 1745.9,1405.2 1748.4,1405.2 1750.9,1405.2 1753.4,1405.2 1755.9,1405.2 1758.4,1405.2 1760.9,1405.2 1763.4,1405.2 1765.9,1405.2 1768.4,1405.2 1770.9,1405.2 1773.4,1405.2 1775.9,1405.2 1778.4,1405.2 1780.9,1405.2 1783.4,1405.2 1785.9,1405.2 1788.4,1405.2 1790.9,1405.2 1793.4,1405.2 1795.9,1405.2 1798.4,1405.2 1800.9,1405.2 1803.4,1405.2 1805.9,1405.2 1808.4,1405.2 1810.9,1405.2 1813.4,1405.2 1815.9,1405.2 1818.4,1405.2 1820.9,1405.2 1823.4,1405.2 1825.9,1405.2 1828.4,1405.2 1830.9,1405.2 1833.4,1405.2 1835.9,1405.2 1838.4,1405.2 1840.9,1405.2 1843.4,1405.2 1845.9,1405.2 1848.4,1405.2 1850.9,1405.2 1853.4,1405.2 1855.9,1405.2 1858.4,1405.2 1860.9,1405.2 1863.4,1405.2 1865.9,1405.2 1868.4,1405.2 1870.9,1405.2 1873.4,1405.2 1875.9,1405.2 1878.4,1405.2 1880.9,1405.2 1883.4,1405.2 1885.9,1405.2 1888.4,1405.2 1890.9,1405.2 1893.4,1405.2 1895.9,1405.2 1898.4,1405.2 1900.9,1405.2 1903.4,1405.2 1905.9,1405.2 1908.4,1405.2 1910.9,1405.2 1913.4,1405.2 1915.9,1405.2 1918.4,1405.2 1920.9,1405.2 1923.4,1405.2 1925.9,1405.2 1928.4,1405.2 1930.9,1405.2 1933.4,1405.2 1935.9,1405.2 1938.4,1405.2 1940.9,1405.2 1943.4,1405.2 1945.9,1405.2 1948.4,1405.2 1950.9,1405.2 1953.4,1405.2 1955.9,1405.2 1958.4,1405.2 1960.9,1405.2 1963.4,1405.2 1965.9,1405.2 1968.3,1405.2 1970.8,1405.2 1973.3,1405.2 1975.8,1405.2 1978.3,1405.2 1980.8,1405.2 1983.3,1405.2 1985.8,1405.2 1988.3,1405.2 1990.8,1405.2 1993.3,1405.2 1995.8,1405.2 1998.3,1405.2 2000.8,1405.2 2003.3,1405.2 2005.8,1405.2 2008.3,1405.2 2010.8,1405.2 2013.3,1405.2 2015.8,1405.2 2018.3,1405.2" fill="none" stroke="#edb120" stroke-width="6.0" stroke-linejoin="round"/>
<rect x="1617.0" y="45.0" width="465.3" height="270.6" fill="#ffffff" stroke="#949494" stroke-width="5.8"/>
<g font-size="51.5" fill="#1c1c1c" stroke="#ffffff" stroke-width="0.7">
<text x="1775.5" y="102.2">x-direction</text>
<text x="1775.5" y="165.9">fit x-direction</text>
<text x="1775.5" y="229.3">y-direction</text>
<text x="1775.5" y="293.5">fit y-direction</text>
</g>
<path d="M1695.7 70.2l15.2 27.0M1695.7 97.2l15.2 -27.0" stroke="#0072bd" stroke-width="7.8" fill="none"/>
<path d="M1637 147.5H1768" stroke="#0000ff" stroke-width="6.0"/>
<path d="M1687.0 214.4h30.0M1702 200.4v28.0" stroke="#edb120" stroke-width="8.6" fill="none"/>
<path d="M1637 276H1768" stroke="#edb120" stroke-width="6.0"/>
<g font-size="57.5" fill="#2a2a2a" stroke="#ffffff" stroke-width="0.8">
<text x="190.5" y="1497.5" text-anchor="middle">-30</text>
<text x="506.1" y="1497.5" text-anchor="middle">-20</text>
<text x="821.6" y="1497.5" text-anchor="middle">-10</text>
<text x="1137.2" y="1497.5" text-anchor="middle">0</text>
<text x="1452.7" y="1497.5" text-anchor="middle">10</text>
<text x="1768.3" y="1497.5" text-anchor="middle">20</text>
<text x="2083.8" y="1497.5" text-anchor="middle">30</text>
<text x="170.5" y="1441.1" text-anchor="end">0</text>
<text x="170.5" y="1303.2" text-anchor="end">0.1</text>
<text x="170.5" y="1165.3" text-anchor="end">0.2</text>
<text x="170.5" y="1027.5" text-anchor="end">0.3</text>
<text x="170.5" y="889.6" text-anchor="end">0.4</text>
<text x="170.5" y="751.7" text-anchor="end">0.5</text>
<text x="170.5" y="613.8" text-anchor="end">0.6</text>
<text x="170.5" y="475.9" text-anchor="end">0.7</text>
<text x="170.5" y="338.1" text-anchor="end">0.8</text>
<text x="170.5" y="200.2" text-anchor="end">0.9</text>
<text x="170.5" y="62.3" text-anchor="end">1</text>
</g>
<g font-size="63.8" fill="#2a2a2a" stroke="#ffffff" stroke-width="0.9">
<text x="1135" y="1581.7" text-anchor="middle">distance in µm</text>
<text transform="translate(65.5 730.5) rotate(-90)" text-anchor="middle">normalized intensity</text>
</g>
</g>
</svg>
</body></html>
